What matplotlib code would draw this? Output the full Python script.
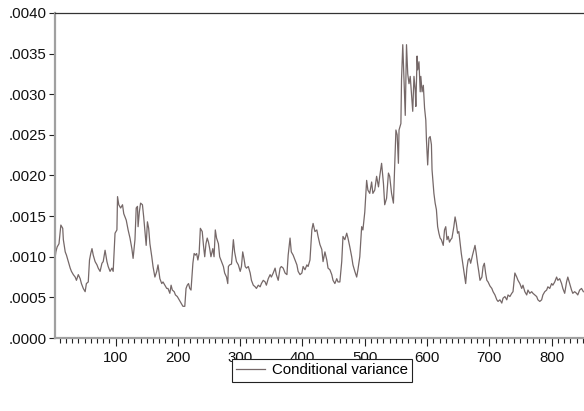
import matplotlib
matplotlib.use("Agg")
import matplotlib.pyplot as plt
from matplotlib.ticker import FuncFormatter, MultipleLocator

plt.rcParams['font.family'] = ['Liberation Sans', 'DejaVu Sans']

series_name = "Conditional variance"

obs = [3, 4, 6, 9, 12, 15, 16, 19, 21, 24, 27, 29, 32, 35, 37, 40, 43, 45, 48, 51,
       53, 56, 58, 60, 62, 64, 67, 70, 72, 75, 78, 80, 83, 86, 88, 91, 94, 96, 99, 102,
       103, 105, 108, 111, 113, 117, 120, 123, 126, 128, 131, 133, 135, 136, 138, 140, 143, 145, 149, 151,
       153, 155, 158, 160, 163, 166, 168, 171, 174, 176, 179, 182, 184, 187, 189, 191, 194, 196, 199, 202,
       205, 208, 211, 213, 215, 217, 219, 221, 224, 226, 228, 230, 232, 234, 236, 239, 241, 243, 245, 247,
       249, 251, 253, 256, 258, 260, 262, 265, 267, 270, 273, 275, 278, 280, 281, 283, 286, 289, 291, 294,
       297, 300, 302, 304, 306, 308, 310, 313, 316, 318, 321, 324, 326, 329, 332, 334, 337, 340, 342, 345,
       348, 350, 353, 356, 358, 361, 364, 366, 369, 372, 375, 377, 380, 382, 385, 388, 391, 393, 396, 399,
       401, 404, 407, 409, 412, 415, 417, 420, 423, 425, 428, 431, 433, 436, 439, 441, 444, 447, 449, 452,
       455, 457, 460, 463, 465, 468, 471, 473, 476, 479, 481, 484, 487, 489, 492, 495, 497, 500, 503, 505,
       508, 511, 513, 516, 519, 522, 524, 527, 530, 532, 535, 538, 540, 543, 546, 548, 550, 552, 554, 555,
       558, 559, 561, 563, 565, 567, 569, 571, 573, 575, 577, 579, 581, 582, 584, 585, 587, 589, 590, 592,
       594, 596, 598, 599, 601, 603, 605, 607, 608, 611, 613, 615, 617, 619, 621, 623, 626, 628, 630, 632,
       634, 636, 638, 640, 643, 645, 647, 649, 651, 653, 655, 658, 660, 662, 664, 666, 668, 670, 673, 675,
       677, 679, 681, 683, 685, 688, 690, 692, 694, 696, 698, 701, 704, 706, 709, 712, 714, 717, 720, 722,
       725, 728, 730, 733, 736, 738, 741, 744, 746, 749, 752, 754, 757, 760, 762, 765, 768, 770, 773, 776,
       778, 781, 784, 786, 789, 792, 794, 797, 800, 802, 805, 808, 810, 813, 816, 818, 821, 824, 826, 829,
       832, 834, 837, 840, 842, 845, 848, 851]

# conditional variance, in units of 0.001
cond_var_milli = [1.00, 1.06, 1.12, 1.16, 1.39, 1.35, 1.21, 1.06, 1.02, 0.94, 0.86, 0.82, 0.78, 0.75, 0.71, 0.78, 0.73, 0.67, 0.61, 0.57,
                  0.67, 0.69, 0.96, 1.04, 1.10, 1.02, 0.94, 0.90, 0.86, 0.82, 0.92, 0.94, 1.08, 0.94, 0.88, 0.82, 0.86, 0.82, 1.29, 1.33,
                  1.74, 1.64, 1.60, 1.64, 1.53, 1.45, 1.33, 1.23, 1.10, 0.98, 1.21, 1.60, 1.62, 1.37, 1.55, 1.66, 1.64, 1.49, 1.14, 1.43,
                  1.35, 1.16, 1.00, 0.88, 0.75, 0.82, 0.90, 0.73, 0.67, 0.69, 0.65, 0.61, 0.61, 0.55, 0.65, 0.59, 0.57, 0.53, 0.51, 0.47,
                  0.43, 0.39, 0.39, 0.61, 0.65, 0.67, 0.61, 0.59, 0.92, 1.04, 1.02, 1.04, 0.96, 1.04, 1.35, 1.31, 1.14, 1.00, 1.16, 1.23,
                  1.18, 1.10, 1.00, 1.10, 1.00, 1.33, 1.23, 1.16, 1.00, 0.94, 0.88, 0.80, 0.75, 0.67, 0.88, 0.90, 0.91, 1.21, 1.06, 0.94,
                  0.90, 0.82, 0.88, 1.06, 0.98, 0.88, 0.86, 0.88, 0.80, 0.71, 0.65, 0.63, 0.61, 0.65, 0.63, 0.67, 0.71, 0.69, 0.65, 0.73,
                  0.78, 0.75, 0.80, 0.86, 0.78, 0.71, 0.86, 0.88, 0.86, 0.80, 0.78, 1.02, 1.23, 1.06, 1.02, 0.96, 0.90, 0.82, 0.78, 0.80,
                  0.88, 0.84, 0.90, 0.88, 0.96, 1.33, 1.41, 1.31, 1.33, 1.25, 1.15, 1.09, 0.94, 1.06, 0.96, 0.86, 0.84, 0.78, 0.71, 0.67,
                  0.73, 0.69, 0.69, 0.94, 1.25, 1.21, 1.29, 1.23, 1.12, 1.00, 0.90, 0.82, 0.75, 0.84, 1.00, 1.37, 1.33, 1.55, 1.94, 1.82,
                  1.78, 1.92, 1.78, 1.82, 1.99, 1.86, 1.99, 2.15, 1.90, 1.64, 1.72, 2.03, 1.99, 1.78, 1.66, 2.11, 2.56, 2.50, 2.15, 2.56,
                  2.64, 3.18, 3.61, 3.18, 2.74, 3.61, 3.25, 3.13, 3.22, 3.01, 2.79, 3.22, 3.05, 2.85, 3.47, 3.30, 3.40, 3.03, 3.22, 3.03,
                  3.11, 2.83, 2.68, 2.44, 2.13, 2.46, 2.48, 2.38, 2.07, 1.78, 1.66, 1.58, 1.37, 1.29, 1.23, 1.21, 1.14, 1.33, 1.37, 1.21,
                  1.25, 1.18, 1.21, 1.23, 1.37, 1.49, 1.41, 1.29, 1.31, 1.18, 1.04, 0.88, 0.78, 0.67, 0.86, 0.96, 0.98, 0.92, 1.02, 1.08,
                  1.14, 1.04, 0.92, 0.82, 0.71, 0.75, 0.88, 0.92, 0.80, 0.71, 0.69, 0.64, 0.61, 0.57, 0.53, 0.47, 0.45, 0.47, 0.43, 0.49,
                  0.51, 0.47, 0.53, 0.51, 0.55, 0.57, 0.80, 0.75, 0.71, 0.67, 0.61, 0.65, 0.57, 0.53, 0.59, 0.55, 0.57, 0.55, 0.53, 0.51,
                  0.47, 0.45, 0.47, 0.53, 0.57, 0.59, 0.63, 0.61, 0.67, 0.65, 0.69, 0.75, 0.71, 0.73, 0.67, 0.61, 0.55, 0.69, 0.75, 0.67,
                  0.59, 0.55, 0.57, 0.55, 0.53, 0.59, 0.61, 0.57]

cond_var = [v / 1000.0 for v in cond_var_milli]

fig = plt.figure(figsize=(5.84, 4.11), dpi=100)
ax = fig.add_axes([55 / 584, 73 / 411, 529 / 584, 325 / 411])

line, = ax.plot(obs, cond_var, color='#756868', linewidth=0.9, label=series_name)

ax.set_xlim(2.6, 852)
ax.set_ylim(0.0, 0.0040)

ax.yaxis.set_major_locator(MultipleLocator(0.0005))
ax.yaxis.set_major_formatter(FuncFormatter(lambda v, p: f"{v:.4f}".lstrip('0') if v >= 0 else f"{v:.4f}"))
ax.xaxis.set_major_locator(MultipleLocator(100))
ax.xaxis.set_minor_locator(MultipleLocator(10))

for s in ['left', 'bottom']:
    ax.spines[s].set_color('#a0a0a0')
    ax.spines[s].set_linewidth(1.6)
ax.spines['top'].set_color('#333333')
ax.spines['top'].set_linewidth(0.9)
ax.spines['right'].set_visible(False)

ax.tick_params(axis='y', which='major', length=4, width=0.8, color='#222222',
               labelsize=10.8, pad=2, direction='out')
ax.tick_params(axis='x', which='major', length=6, width=0.8, color='#222222',
               labelsize=10.8, pad=3, direction='out')
ax.tick_params(axis='x', which='minor', length=3.5, width=0.8, color='#222222', direction='out')
ax.tick_params(axis='both', labelcolor='#111111')

leg = fig.legend(handles=[line], loc='center', bbox_to_anchor=(322 / 584, 41 / 411),
                 fancybox=False, edgecolor='#222222', framealpha=1, fontsize=10.8,
                 handlelength=1.9, handletextpad=0.45, borderpad=0.3, borderaxespad=0)
leg.get_frame().set_linewidth(0.8)

fig.savefig('out.png', dpi=100)
